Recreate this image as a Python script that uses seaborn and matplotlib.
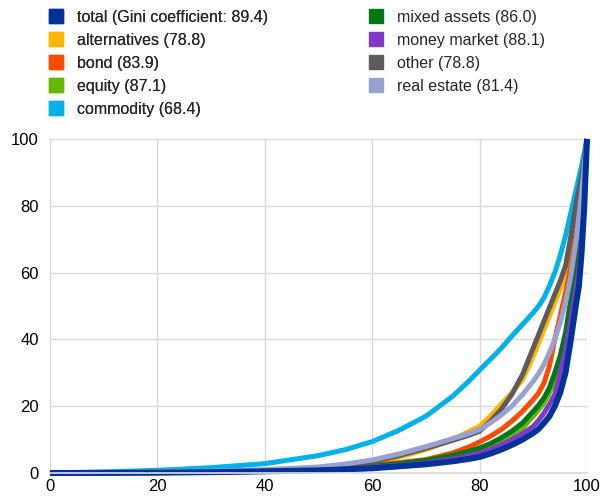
import matplotlib
matplotlib.use("Agg")
import matplotlib.pyplot as plt
from matplotlib.lines import Line2D
import seaborn as sns
import pandas as pd

# cumulative share of funds (%)
x = [0, 10, 20, 30, 40, 50, 55, 60, 65, 70, 75, 78, 80, 82, 84, 86, 88, 90, 91, 92,
     93, 94, 95, 96, 97, 98, 98.5, 99, 99.5, 100]

total        = [0, 0.05, 0.1, 0.25, 0.5, 0.8, 1.1, 1.4, 2.0, 2.6, 3.5, 4.2, 4.8, 5.8, 7.0, 8.4, 10, 12, 13.2, 15,
                17, 20, 24, 30, 40, 51, 56, 66, 80, 100]
alternatives = [0, 0.1, 0.2, 0.4, 0.7, 1.3, 2.0, 3.0, 4.8, 7.0, 10, 12.4, 14, 17, 20.5, 24, 28, 35, 39, 43,
                47, 51, 55, 60, 68, 77, 83, 88, 94, 100]
bond         = [0, 0.05, 0.15, 0.3, 0.6, 1.1, 1.6, 2.3, 3.1, 4.0, 6.0, 7.8, 9.3, 11, 13, 15.5, 18.5, 22, 24, 27,
                32, 40, 47, 54, 62, 73, 79, 85, 92, 100]
equity       = [0, 0.05, 0.1, 0.25, 0.5, 0.9, 1.3, 1.8, 2.5, 3.3, 4.7, 5.8, 6.8, 8.0, 9.5, 11.5, 13.5, 17, 19, 21,
                24, 28, 33, 40, 50, 63, 70, 78, 88, 100]
commodity    = [0, 0.3, 0.8, 1.6, 2.8, 5.2, 7.0, 9.4, 12.8, 17, 23, 27.5, 30.8, 34, 37.3, 41, 44.5, 48, 50, 52.5,
                56, 60, 65, 71, 78, 85, 88.5, 92, 96, 100]
mixed        = [0, 0.05, 0.1, 0.25, 0.5, 0.9, 1.4, 2.0, 2.8, 3.8, 5.3, 6.5, 7.5, 8.8, 10.5, 12.5, 15, 18.5, 20.3, 22.5,
                25.5, 30, 35, 42, 52, 65, 72, 80, 89, 100]
money_market = [0, 0.05, 0.15, 0.3, 0.6, 1.0, 1.3, 1.7, 2.3, 3.0, 4.2, 5.2, 6.0, 7.0, 8.4, 10, 11.8, 14, 15.8, 18,
                20.6, 23.5, 30, 37, 46, 56, 61, 70, 83, 100]
other        = [0, 0.1, 0.2, 0.4, 0.8, 1.5, 2.3, 3.4, 5.2, 7.4, 9.8, 11.3, 12.5, 15.5, 19, 23.5, 29.5, 37.5, 41.5, 45.5,
                49.5, 53.5, 57.5, 62, 71, 81, 85, 89, 94, 100]
real_estate  = [0, 0.1, 0.3, 0.5, 1.0, 1.8, 2.7, 3.9, 5.7, 7.9, 10.3, 11.8, 13, 15, 17.3, 20, 23.5, 27.5, 29.8, 32.5,
                36, 40, 45, 51, 59, 70, 77, 84, 92, 100]

labels = ["total (Gini coefficient: 89.4)", "alternatives (78.8)", "bond (83.9)",
          "equity (87.1)", "commodity (68.4)", "mixed assets (86.0)",
          "money market (88.1)", "other (78.8)", "real estate (81.4)"]
series = [total, alternatives, bond, equity, commodity, mixed, money_market, other, real_estate]
colors = ["#003299", "#FFB400", "#FF4B00", "#65B800", "#00B1EA", "#007816",
          "#8139C6", "#5C5C5C", "#98A1D0"]

rows = []
for lab, vals in zip(labels, series):
    for xi, yi in zip(x, vals):
        rows.append({"x": xi, "y": yi, "series": lab})
df = pd.DataFrame(rows)

sns.set_theme(style="white")
plt.rcParams["font.family"] = ["Liberation Sans", "DejaVu Sans"]

fig = plt.figure(figsize=(6.01, 4.97), dpi=100)
ax = fig.add_axes([50/601, 24/497, 537/601, 334/497])

draw_order = labels[1:] + labels[:1]
for lab in draw_order:
    i = labels.index(lab)
    sns.lineplot(data=df[df["series"] == lab], x="x", y="y", ax=ax,
                 color=colors[i], linewidth=4.3 if i == 0 else 3.6,
                 legend=False, clip_on=False, solid_capstyle="butt",
                 solid_joinstyle="round")

ax.set_xlim(0, 100)
ax.set_ylim(0, 100)
ax.set_xticks([0, 20, 40, 60, 80, 100])
ax.set_yticks([0, 20, 40, 60, 80, 100])
ax.set_xlabel("")
ax.set_ylabel("")
ax.grid(True, color="#d9d9d9", linewidth=1)
for s in ["top", "left", "right"]:
    ax.spines[s].set_visible(False)
ax.spines["bottom"].set_color("#d9d9d9")
ax.tick_params(axis="both", length=0, labelsize=12, colors="#000000")
ax.tick_params(axis="y", pad=8)
ax.tick_params(axis="x", pad=4)
ax.set_axisbelow(True)

handles = [Line2D([0], [0], marker="s", linestyle="none", markersize=10,
                  markerfacecolor=c, markeredgecolor=c) for c in colors]
col1 = [0, 1, 2, 3, 4]
col2 = [5, 6, 7, 8]
common = dict(loc="upper left", frameon=False, fontsize=11.5, handlelength=1.0,
              handletextpad=0.78, labelspacing=0.5, borderaxespad=0, borderpad=0)
leg1 = fig.legend([handles[i] for i in col1], [labels[i] for i in col1],
                  bbox_to_anchor=(48.5/601, 1 - 10/497), **common)
leg2 = fig.legend([handles[i] for i in col2], [labels[i] for i in col2],
                  bbox_to_anchor=(368.5/601, 1 - 10/497), **common)
fig.add_artist(leg1)

fig.savefig("out.png", dpi=100)
